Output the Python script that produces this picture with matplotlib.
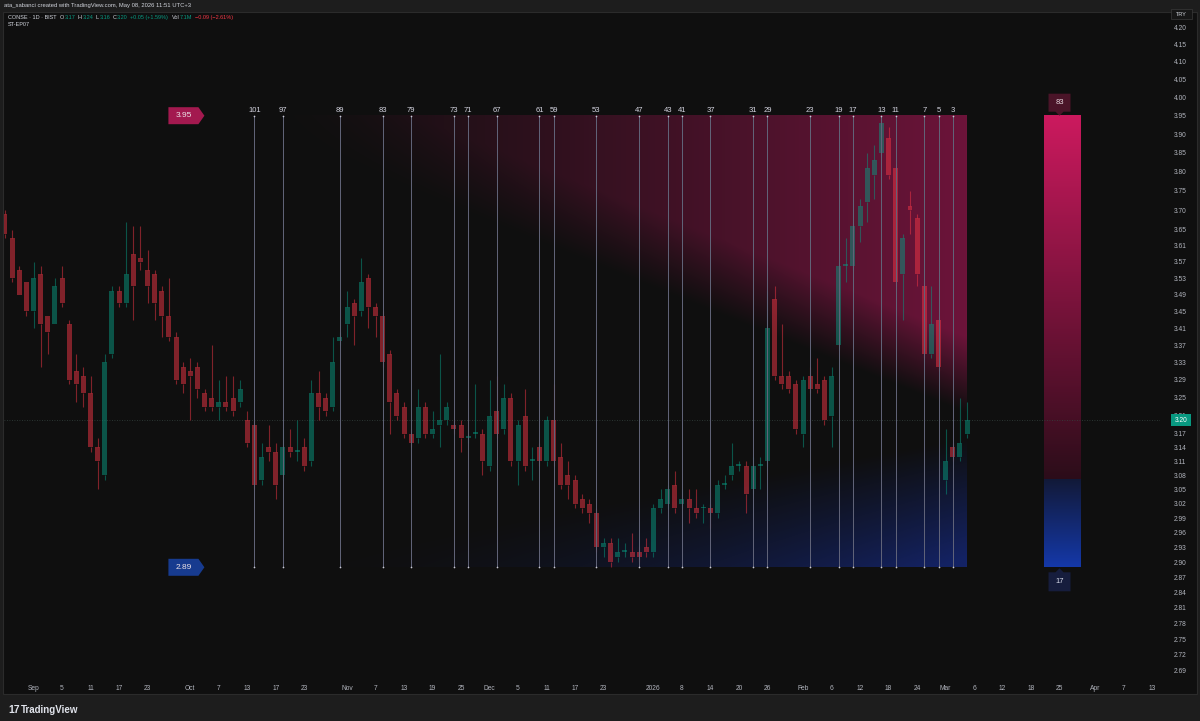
import numpy as np
import matplotlib.pyplot as plt
from matplotlib.patches import Rectangle, Polygon
from matplotlib.transforms import Affine2D

plt.rcParams['font.family'] = ['Liberation Sans', 'DejaVu Sans']

# CONSE 1D, 26 Aug 2025 .. 5 Mar 2026
opens = [3.69, 3.63, 3.55, 3.52, 3.45, 3.54, 3.44, 3.42, 3.53, 3.42,
         3.31, 3.30, 3.26, 3.14, 3.08, 3.35, 3.50, 3.47, 3.59, 3.58,
         3.55, 3.54, 3.50, 3.44, 3.39, 3.32, 3.31, 3.32, 3.26, 3.25,
         3.23, 3.24, 3.25, 3.24, 3.20, 3.19, 3.07, 3.14, 3.13, 3.08,
         3.14, 3.13, 3.14, 3.11, 3.26, 3.25, 3.23, 3.38, 3.42, 3.47,
         3.45, 3.53, 3.46, 3.44, 3.35, 3.26, 3.23, 3.17, 3.16, 3.23,
         3.17, 3.19, 3.20, 3.19, 3.19, 3.16, 3.17, 3.17, 3.10, 3.22,
         3.18, 3.25, 3.11, 3.21, 3.11, 3.14, 3.11, 3.20, 3.12, 3.08,
         3.07, 3.03, 3.02, 3.00, 2.93, 2.94, 2.91, 2.92, 2.92, 2.92,
         2.93, 2.92, 3.01, 3.02, 3.06, 3.02, 3.03, 3.01, 3.01, 3.01,
         3.00, 3.06, 3.08, 3.10, 3.10, 3.05, 3.10, 3.11, 3.48, 3.30,
         3.30, 3.28, 3.17, 3.30, 3.28, 3.29, 3.21, 3.37, 3.56, 3.56,
         3.66, 3.72, 3.79, 3.85, 3.89, 3.81, 3.54, 3.71, 3.68, 3.51,
         3.35, 3.43, 3.07, 3.14, 3.12, 3.17]
highs = [3.70, 3.65, 3.56, 3.52, 3.57, 3.56, 3.44, 3.53, 3.56, 3.43,
         3.35, 3.32, 3.30, 3.16, 3.35, 3.51, 3.51, 3.67, 3.66, 3.66,
         3.60, 3.55, 3.51, 3.53, 3.40, 3.33, 3.34, 3.33, 3.27, 3.37,
         3.29, 3.30, 3.30, 3.29, 3.22, 3.20, 3.15, 3.19, 3.15, 3.18,
         3.18, 3.20, 3.16, 3.29, 3.31, 3.26, 3.39, 3.40, 3.50, 3.48,
         3.58, 3.54, 3.47, 3.45, 3.36, 3.27, 3.24, 3.18, 3.27, 3.24,
         3.22, 3.35, 3.24, 3.20, 3.20, 3.17, 3.28, 3.18, 3.29, 3.30,
         3.28, 3.26, 3.20, 3.27, 3.14, 3.15, 3.21, 3.28, 3.15, 3.11,
         3.08, 3.04, 3.03, 3.01, 2.95, 2.95, 2.95, 2.94, 2.96, 2.93,
         2.95, 3.02, 3.05, 3.06, 3.09, 3.05, 3.05, 3.05, 3.02, 3.02,
         3.07, 3.08, 3.15, 3.11, 3.11, 3.12, 3.12, 3.50, 3.51, 3.42,
         3.31, 3.29, 3.30, 3.32, 3.34, 3.30, 3.32, 3.57, 3.63, 3.67,
         3.73, 3.85, 3.87, 3.95, 3.92, 3.82, 3.64, 3.75, 3.69, 3.52,
         3.51, 3.44, 3.18, 3.15, 3.25, 3.24]
lows = [3.63, 3.52, 3.49, 3.44, 3.41, 3.32, 3.35, 3.42, 3.46, 3.28,
        3.24, 3.23, 3.13, 3.05, 3.07, 3.34, 3.46, 3.46, 3.43, 3.55,
        3.47, 3.43, 3.39, 3.38, 3.28, 3.26, 3.20, 3.25, 3.22, 3.22,
        3.20, 3.22, 3.21, 3.23, 3.14, 3.05, 3.06, 3.11, 3.03, 3.07,
        3.12, 3.11, 3.09, 3.10, 3.20, 3.21, 3.22, 3.37, 3.39, 3.37,
        3.44, 3.41, 3.39, 3.32, 3.17, 3.20, 3.16, 3.14, 3.15, 3.16,
        3.16, 3.14, 3.19, 3.17, 3.13, 3.15, 3.16, 3.08, 3.09, 3.16,
        3.17, 3.10, 3.06, 3.09, 3.07, 3.10, 3.10, 3.10, 3.05, 3.03,
        3.01, 3.00, 2.98, 2.92, 2.91, 2.89, 2.90, 2.91, 2.90, 2.90,
        2.91, 2.91, 3.00, 3.01, 3.00, 3.01, 2.98, 2.99, 2.98, 2.97,
        2.99, 3.05, 3.07, 3.09, 3.00, 3.04, 3.05, 3.10, 3.29, 3.27,
        3.26, 3.17, 3.14, 3.26, 3.26, 3.19, 3.14, 3.36, 3.52, 3.55,
        3.62, 3.67, 3.73, 3.84, 3.78, 3.51, 3.43, 3.64, 3.51, 3.34,
        3.34, 3.31, 3.04, 3.11, 3.11, 3.16]
closes = [3.64, 3.53, 3.49, 3.45, 3.53, 3.42, 3.40, 3.51, 3.47, 3.29,
          3.28, 3.26, 3.14, 3.11, 3.33, 3.50, 3.47, 3.54, 3.51, 3.57,
          3.51, 3.47, 3.44, 3.39, 3.29, 3.28, 3.30, 3.27, 3.23, 3.23,
          3.24, 3.23, 3.22, 3.27, 3.15, 3.06, 3.12, 3.13, 3.06, 3.14,
          3.13, 3.13, 3.10, 3.26, 3.23, 3.22, 3.33, 3.39, 3.46, 3.44,
          3.52, 3.46, 3.44, 3.33, 3.24, 3.21, 3.17, 3.15, 3.23, 3.17,
          3.18, 3.20, 3.23, 3.18, 3.16, 3.16, 3.17, 3.11, 3.21, 3.17,
          3.25, 3.11, 3.19, 3.10, 3.11, 3.11, 3.20, 3.11, 3.06, 3.06,
          3.02, 3.01, 3.00, 2.93, 2.94, 2.90, 2.92, 2.92, 2.91, 2.91,
          2.92, 3.01, 3.03, 3.05, 3.01, 3.03, 3.01, 3.00, 3.01, 3.00,
          3.06, 3.06, 3.10, 3.10, 3.04, 3.10, 3.10, 3.41, 3.30, 3.28,
          3.27, 3.18, 3.29, 3.27, 3.27, 3.20, 3.30, 3.56, 3.56, 3.66,
          3.71, 3.81, 3.83, 3.93, 3.79, 3.52, 3.63, 3.70, 3.54, 3.35,
          3.42, 3.32, 3.11, 3.12, 3.15, 3.20]

date_pos = [4, 8, 12, 16, 20, 26, 30, 34, 38, 42, 48, 52, 56, 60, 64,
            68, 72, 76, 80, 84, 91, 95, 99, 103, 107, 112, 116, 120, 124,
            128, 132, 136, 140, 144, 148, 153, 157, 161]
date_lbl = ['Sep', '5', '11', '17', '23', 'Oct', '7', '13', '17', '23',
            'Nov', '7', '13', '19', '25', 'Dec', '5', '11', '17', '23',
            '2026', '8', '14', '20', '26', 'Feb', '6', '12', '18', '24',
            'Mar', '6', '12', '18', '25', 'Apr', '7', '13']
price_ticks = [4.20, 4.15, 4.10, 4.05, 4.00, 3.95, 3.90, 3.85, 3.80, 3.75,
               3.70, 3.65, 3.61, 3.57, 3.53, 3.49, 3.45, 3.41, 3.37, 3.33,
               3.29, 3.25, 3.21, 3.17, 3.14, 3.11, 3.08, 3.05, 3.02, 2.99,
               2.96, 2.93, 2.90, 2.87, 2.84, 2.81, 2.78, 2.75, 2.72, 2.69]
primes = [101, 97, 89, 83, 79, 73, 71, 67, 61, 59, 53, 47, 43, 41, 37,
          31, 29, 23, 19, 17, 13, 11, 7, 5, 3]
range_hi = 3.95
range_lo = 2.89
pct_up = 83
pct_dn = 17
last_close = 3.20

W, H = 1200, 721
fig = plt.figure(figsize=(W / 100, H / 100), dpi=100)
fig.patch.set_facecolor('#1d1d1d')
pix = Affine2D().scale(1 / W, -1 / H).translate(0, 1) + fig.transFigure

fig.add_artist(Rectangle((3, 12), 1194, 682, transform=pix, fc='#0f0f0f',
                         ec='#2b2b2b', lw=0.8, zorder=-5))

L, R, T, B = 4, 1160, 12, 680
ax = fig.add_axes([L / W, 1 - B / H, (R - L) / W, (B - T) / H])
ax.set_facecolor('none')
ax.set_yscale('log')
bar_px, x0_px, k = 7.126, 5, 1445.3
xlim = ((L - x0_px) / bar_px, (R - x0_px) / bar_px)
ylim = (4.2 * np.exp(-(B - 27) / k), 4.2 * np.exp((27 - T) / k))
ax.set_xlim(xlim)
ax.set_ylim(ylim)
for s in ax.spines.values():
    s.set_visible(False)

o = np.array(opens)
h = np.array(highs)
lo = np.array(lows)
c = np.array(closes)
n = len(c)
last = n - 1
bx0 = n - primes[0]
idx = np.arange(n)

# gradient zone behind candles
to_ax = ax.transData + ax.transAxes.inverted()
(u0, v0), (u1, v1) = to_ax.transform([(bx0, range_lo), (last, range_hi)])
U, V = np.meshgrid(np.linspace(0, 1, 700), np.linspace(0, 1, 450))
red_i = np.clip((0.03 + 0.63 * U - V) / 0.17, 0, 1) * U ** 1.2
blue_i = np.clip((V - (1 - 0.285 * U)) / 0.27, 0, 1) * U ** 1.1
img = np.zeros(U.shape + (4,))
img[..., :3] = np.where((red_i >= blue_i)[..., None],
                        np.array([0.43, 0.08, 0.23]), np.array([0.08, 0.14, 0.40]))
img[..., 3] = np.maximum(red_i, blue_i)
ax.imshow(img, extent=[u0, u1, v0, v1], transform=ax.transAxes, aspect='auto',
          zorder=1, interpolation='bilinear')

# side gauge
gx0 = ax.transData.transform((last, 3))[0] + 77
gx1 = gx0 + 37
split = range_lo + pct_dn / 100 * (range_hi - range_lo)
sv = np.log(split / range_lo) / np.log(range_hi / range_lo)
fr = np.linspace(1, 0, 452)
gimg = np.ones((452, 1, 4))
tp = np.clip((fr - sv) / (1 - sv), 0, 1)[:, None]
tb = np.clip(fr / sv, 0, 1)[:, None]
pink = np.array([0.17, 0.05, 0.10]) + tp * (np.array([0.80, 0.10, 0.37]) - np.array([0.17, 0.05, 0.10]))
blue = np.array([0.08, 0.22, 0.66]) + tb * (np.array([0.07, 0.10, 0.22]) - np.array([0.08, 0.22, 0.66]))
gimg[:, 0, :3] = np.where((fr >= sv)[:, None], pink, blue)
ax.imshow(gimg, extent=[(gx0 - L) / (R - L), (gx1 - L) / (R - L), v0, v1],
          transform=ax.transAxes, aspect='auto', zorder=1, interpolation='bilinear')

ax.set_xlim(xlim)
ax.set_ylim(ylim)

# candles
up = c >= o
col = np.where(up, '#089981', '#f23645')
btop = np.maximum(o, c)
bbot = np.minimum(o, c)
ax.vlines(idx, btop, h, colors=col, lw=0.8, alpha=0.5, zorder=3)
ax.vlines(idx, lo, bbot, colors=col, lw=0.8, alpha=0.5, zorder=3)
ax.bar(idx, np.maximum(btop - bbot, 0.004), bottom=bbot, width=0.7,
       color=col, alpha=0.5, lw=0, zorder=4)

ax.axhline(last_close, color='#34423e', lw=0.6, ls=(0, (1, 2)), zorder=2)

# prime count lines
xs = [n - p for p in primes]
ax.vlines(xs, range_lo, range_hi, colors='#62657a', lw=0.7, zorder=5)
ax.scatter(xs, [range_lo] * len(xs), s=1.5, c='#c9cad6', lw=0, zorder=6)
ax.scatter(xs, [range_hi] * len(xs), s=1.5, c='#c9cad6', lw=0, zorder=6)
for x, p in zip(xs, primes):
    ax.annotate(str(p), (x, range_hi), xytext=(0, 1.2), textcoords='offset points',
                ha='center', va='bottom', fontsize=5.5, color='#d4d4e0', zorder=7)

ax.set_xticks(date_pos, date_lbl)
ax.yaxis.tick_right()
ax.set_yticks(price_ticks, [f'{t:.2f}' for t in price_ticks])
ax.minorticks_off()
ax.tick_params(axis='x', length=0, pad=3.5, labelsize=4.8, labelcolor='#b2b5be')
ax.tick_params(axis='y', length=0, pad=10, labelsize=4.8, labelcolor='#b2b5be')


def px_x(i):
    return ax.transData.transform((i, 3))[0]


def px_y(p):
    return H - ax.transData.transform((0, p))[1]


# range labels on the left
lx = px_x(bx0) - 86
for val, fc in [(range_hi, '#a3194f'), (range_lo, '#173b8f')]:
    yc = px_y(val)
    pts = [(lx, yc - 8.5), (lx + 30, yc - 8.5), (lx + 36, yc), (lx + 30, yc + 8.5), (lx, yc + 8.5)]
    fig.add_artist(Polygon(pts, closed=True, transform=pix, fc=fc, ec='none'))
    fig.text(lx + 15.5, yc, f'{val:.2f}', transform=pix, ha='center', va='center',
             fontsize=6, color='#ece2e7')

# gauge labels
gc = (gx0 + gx1) / 2 - 3
yt = px_y(range_hi)
yb = px_y(range_lo)
fig.add_artist(Polygon([(gc - 11, yt - 22), (gc + 11, yt - 22), (gc + 11, yt - 4), (gc + 4, yt - 4),
                        (gc, yt), (gc - 4, yt - 4), (gc - 11, yt - 4)],
                       closed=True, transform=pix, fc='#4a1428', ec='none'))
fig.text(gc, yt - 13, str(pct_up), transform=pix, ha='center', va='center',
         fontsize=5.5, color='#e6d8de')
fig.add_artist(Polygon([(gc - 11, yb + 24), (gc + 11, yb + 24), (gc + 11, yb + 5), (gc + 4, yb + 5),
                        (gc, yb + 1), (gc - 4, yb + 5), (gc - 11, yb + 5)],
                       closed=True, transform=pix, fc='#161d3d', ec='none'))
fig.text(gc, yb + 14.5, str(pct_dn), transform=pix, ha='center', va='center',
         fontsize=5.5, color='#d8dcea')

# last price tag
yc = px_y(last_close)
fig.add_artist(Rectangle((1171, yc - 6), 20, 12, transform=pix, fc='#089981', ec='none'))
fig.text(1181, yc, f'{last_close:.2f}', transform=pix, ha='center', va='center',
         fontsize=4.8, color='#ffffff')

# currency box
fig.add_artist(Rectangle((1171, 9), 21, 10, transform=pix, fc='#161616', ec='#3a3a3a', lw=0.5))
fig.text(1181.5, 14, 'TRY', transform=pix, ha='center', va='center', fontsize=4, color='#d1d4dc')

# header and legend
fig.text(4, 5.5, 'ata_sabanci created with TradingView.com, May 08, 2026 11:51 UTC+3',
         transform=pix, va='center', fontsize=4.2, color='#d1d4dc')
green, red, grey = '#089981', '#f23645', '#d1d4dc'
legend = [('CONSE · 1D · BIST', grey, 3), ('O', grey, 0.5), ('3.17', green, 2.5),
          ('H', grey, 0.5), ('3.24', green, 2.5), ('L', grey, 0.5), ('3.16', green, 2.5),
          ('C', grey, 0.5), ('3.20', green, 2.5), ('+0.05 (+1.59%)', green, 3.5),
          ('Vol', grey, 0.5), ('7.1M', green, 2.5), ('−0.09 (−2.61%)', red, 0)]
renderer = fig.canvas.get_renderer()
x = 8
for s, cc, gap in legend:
    t = fig.text(x, 17.5, s, transform=pix, va='center', fontsize=4.0, color=cc)
    x += t.get_window_extent(renderer).width + gap
fig.text(8, 25, 'ST-EP07', transform=pix, va='center', fontsize=4.0, color=grey)

# footer logo
fig.text(8, 710, '17', transform=pix, va='center', fontsize=7.5, fontweight='bold', color='#e0e3eb')
fig.text(21, 710, 'TradingView', transform=pix, va='center', fontsize=7, fontweight='bold',
         color='#e0e3eb')

fig.savefig('out.png', dpi=100, facecolor=fig.get_facecolor())
